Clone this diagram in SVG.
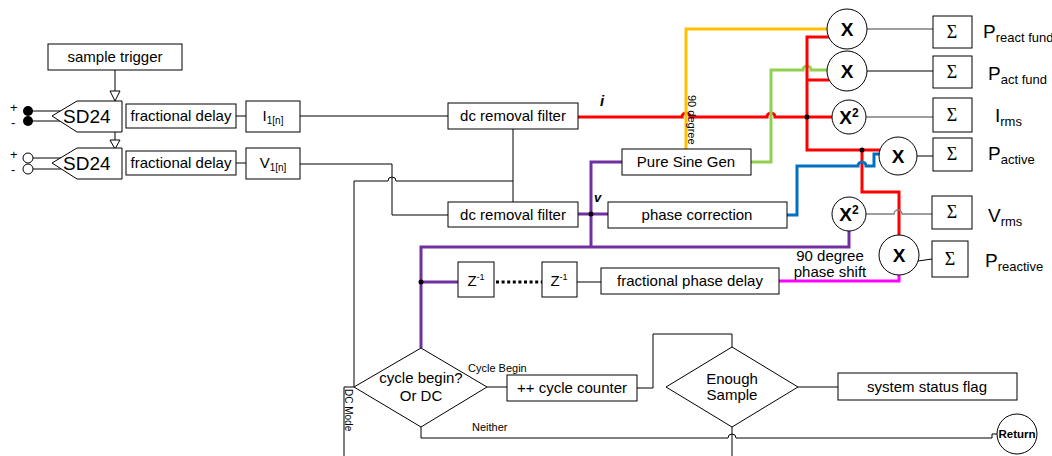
<svg xmlns="http://www.w3.org/2000/svg" width="1052" height="456" viewBox="0 0 1052 456">
<style>
.b{fill:#fff;stroke:#000;stroke-width:1}
.t{font-family:"Liberation Sans",Arial,sans-serif;font-size:15px;fill:#000}
.m{text-anchor:middle}
.sm{font-size:11px}
.w{fill:none;stroke:#000;stroke-width:1}
.g{fill:none;stroke:#7f7f7f;stroke-width:1.3}
.c{fill:none;stroke-width:3}
.x{font-family:"Liberation Sans",Arial,sans-serif;font-weight:bold;font-size:19px;text-anchor:middle}
.s{font-family:"Liberation Serif","Times New Roman",serif;font-size:18px;text-anchor:middle}
.lp{font-family:"Liberation Sans",Arial,sans-serif;font-size:19px}
</style>
<rect width="1052" height="456" fill="#fff"/>

<g id="connectors">
  <path class="w" d="M115,70V91"/>
  <polygon points="110,91 120,91 115,101" fill="#fff" stroke="#000"/>
  <path class="w" d="M115,132V140"/>
  <polygon points="110,140 120,140 115,149" fill="#fff" stroke="#000"/>
  <path class="w" d="M28,111H61M28,121H61M33,158H61M33,169H61"/>
  <path class="w" d="M236,116H246M236,163H246"/>
  <path class="w" d="M300,116H448"/>
  <path class="w" d="M300,164H392V215H448"/>
  <path class="w" d="M513,129V202"/>
  <path class="w" d="M513,181H396A4,4 0 0 0 388,181H354V387"/>
  <path class="w" d="M354,387H344V456"/>
  <path class="c" stroke="#ff0000" d="M578,117H682A4,4 0 0 1 690,117H767A4,4 0 0 1 775,117H832"/>
  <path class="c" stroke="#ffc000" d="M686,149V29H827"/>
  <path class="c" stroke="#92d050" d="M751,162H771V70H803A4,4 0 0 1 811,70H828"/>
  <path class="c" stroke="#ff0000" d="M829,37H807V150H880"/>
  <path class="c" stroke="#ff0000" d="M807,80H829"/>
  <path class="c" stroke="#ff0000" d="M862,150V192H899V235"/>
  <path class="c" stroke="#0070c0" d="M787,215H797V166H858A4,4 0 0 1 866,166H874V154H881"/>
  <path class="c" stroke="#7030a0" d="M578,214H608M622,162H591V247M421,348V247H849V231M421,282H458"/>
  <path class="c" stroke="#ff00ff" d="M779,281H899V275"/>
  <path d="M496,282H542" style="fill:none;stroke:#000;stroke-width:3;stroke-dasharray:3,2.6"/>
  <path class="w" d="M577,282H601"/>
  <path class="g" d="M867,29H933M866,117H933M866,214H894A4,4 0 0 1 902,214H932"/>
  <path class="w" d="M867,71H933M917,156H933M918,261L932,259"/>
  <path class="w" d="M487,387H507M637,388H653V334H732V347M798,387H838M732,427V456"/>
  <path class="w" d="M421,427V438H728A4,4 0 0 1 736,438H992V434H997"/>
  <circle cx="807" cy="117" r="2.5"/>
  <circle cx="862" cy="150" r="2.5"/>
  <circle cx="591" cy="214" r="2.5"/>
  <circle cx="421" cy="282" r="2.5"/>
  <text x="600" y="106" class="t" style="font-weight:bold;font-style:italic">i</text>
  <text x="594" y="202" class="t" style="font-weight:bold;font-style:italic;font-size:13px">v</text>
  <text transform="translate(688,95) rotate(90)" class="t sm">90 degree</text>
  <text transform="translate(345,389) rotate(90)" class="t" style="font-size:10px">DC Mode</text>
  <text x="468" y="372" class="t sm">Cycle Begin</text>
  <text x="472" y="431" class="t sm">Neither</text>
  <text x="830" y="261" class="t m">90 degree</text>
  <text x="830" y="277" class="t m">phase shift</text>
</g>

<g id="inputs">
  <circle cx="28" cy="111" r="5"/>
  <circle cx="28" cy="121" r="5"/>
  <circle cx="28" cy="158" r="5" fill="#fff" stroke="#000"/>
  <circle cx="28" cy="169" r="5" fill="#fff" stroke="#000"/>
  <text x="10" y="112" class="t" style="font-size:13px">+</text>
  <text x="11" y="127" class="t" style="font-size:13px">-</text>
  <text x="10" y="159" class="t" style="font-size:13px">+</text>
  <text x="11" y="174" class="t" style="font-size:13px">-</text>
</g>

<g id="sample-trigger"><rect class="b" x="48" y="44" width="134" height="26"/><text class="t m" x="115" y="62">sample trigger</text></g>
<g id="sd24-i"><polygon class="b" points="52,116 77,101 122,101 122,132 77,132"/><text class="t" style="font-size:19px" x="63" y="123">SD24</text></g>
<g id="sd24-v"><polygon class="b" points="52,163 77,148 122,148 122,179 77,179"/><text class="t" style="font-size:19px" x="63" y="170">SD24</text></g>
<g id="frac-delay-i"><rect class="b" x="126" y="104" width="110" height="24"/><text class="t m" x="181" y="121">fractional delay</text></g>
<g id="frac-delay-v"><rect class="b" x="126" y="151" width="110" height="24"/><text class="t m" x="181" y="168">fractional delay</text></g>
<g id="i1n"><rect class="b" x="246" y="101" width="54" height="31"/><text class="t m" x="273" y="121">I<tspan style="font-size:10px" dy="3">1[n]</tspan></text></g>
<g id="v1n"><rect class="b" x="246" y="148" width="54" height="31"/><text class="t m" x="273" y="168">V<tspan style="font-size:10px" dy="3">1[n]</tspan></text></g>
<g id="dc-filter-i"><rect class="b" x="448" y="103" width="130" height="26"/><text class="t m" x="513" y="121">dc removal filter</text></g>
<g id="dc-filter-v"><rect class="b" x="448" y="202" width="130" height="25"/><text class="t m" x="513" y="220">dc removal filter</text></g>
<g id="pure-sine-gen"><rect class="b" x="622" y="149" width="129" height="26"/><text class="t m" x="686" y="167">Pure Sine Gen</text></g>
<g id="phase-correction"><rect class="b" x="608" y="202" width="179" height="26"/><text class="t m" x="697" y="220">phase correction</text></g>
<g id="z1"><rect class="b" x="458" y="262" width="36" height="35"/><text class="t m" x="476" y="286">Z<tspan style="font-size:9px" dy="-6">-1</tspan></text></g>
<g id="z2"><rect class="b" x="542" y="262" width="35" height="35"/><text class="t m" x="559" y="286">Z<tspan style="font-size:9px" dy="-6">-1</tspan></text></g>
<g id="frac-phase-delay"><rect class="b" x="601" y="268" width="178" height="26"/><text class="t m" x="690" y="286">fractional phase delay</text></g>

<g id="mul-react-fund"><circle class="b" cx="847" cy="29" r="20"/><text class="x" x="847" y="36">X</text></g>
<g id="mul-act-fund"><circle class="b" cx="847" cy="71" r="20"/><text class="x" x="847" y="78">X</text></g>
<g id="sq-i"><circle class="b" cx="849" cy="117" r="17"/><text class="x" x="849" y="124">X<tspan style="font-size:12px" dy="-7">2</tspan></text></g>
<g id="mul-active"><circle class="b" cx="898" cy="156" r="19"/><text class="x" x="898" y="163">X</text></g>
<g id="sq-v"><circle class="b" cx="849" cy="214" r="17"/><text class="x" x="849" y="221">X<tspan style="font-size:12px" dy="-7">2</tspan></text></g>
<g id="mul-reactive"><circle class="b" cx="899" cy="255" r="20"/><text class="x" x="899" y="262">X</text></g>

<g id="sum-react-fund"><rect class="b" x="933" y="16" width="39" height="32"/><text class="s" x="952" y="38">Σ</text></g>
<g id="sum-act-fund"><rect class="b" x="933" y="56" width="39" height="32"/><text class="s" x="952" y="78">Σ</text></g>
<g id="sum-irms"><rect class="b" x="933" y="98" width="39" height="34"/><text class="s" x="952" y="121">Σ</text></g>
<g id="sum-active"><rect class="b" x="933" y="138" width="39" height="33"/><text class="s" x="952" y="160">Σ</text></g>
<g id="sum-vrms"><rect class="b" x="932" y="196" width="40" height="33"/><text class="s" x="952" y="218">Σ</text></g>
<g id="sum-reactive"><rect class="b" x="932" y="241" width="36" height="36"/><text class="s" x="950" y="265">Σ</text></g>

<g id="labels" class="lp">
  <text x="983" y="38">P<tspan style="font-size:13px" dy="4">react fund</tspan></text>
  <text x="988" y="80">P<tspan style="font-size:13px" dy="4">act fund</tspan></text>
  <text x="995" y="122">I<tspan style="font-size:13px" dy="4">rms</tspan></text>
  <text x="988" y="160">P<tspan style="font-size:13px" dy="4">active</tspan></text>
  <text x="988" y="222">V<tspan style="font-size:13px" dy="4">rms</tspan></text>
  <text x="985" y="267">P<tspan style="font-size:13px" dy="4">reactive</tspan></text>
</g>

<g id="cycle-begin"><polygon class="b" points="421,348 487,387 421,427 354,387"/><text class="t m" x="421" y="383">cycle begin?</text><text class="t m" x="421" y="401">Or DC</text></g>
<g id="cycle-counter"><rect class="b" x="507" y="375" width="130" height="26"/><text class="t m" x="572" y="393">++ cycle counter</text></g>
<g id="enough-sample"><polygon class="b" points="732,347 798,387 732,427 666,387"/><text class="t m" x="732" y="384">Enough</text><text class="t m" x="732" y="400">Sample</text></g>
<g id="status-flag"><rect class="b" x="838" y="373" width="179" height="27"/><text class="t m" x="927" y="392">system status flag</text></g>
<g id="return"><circle class="b" cx="1017" cy="434" r="20"/><text class="t m" x="1017" y="438" style="font-size:11.5px;font-weight:bold">Return</text></g>
</svg>
